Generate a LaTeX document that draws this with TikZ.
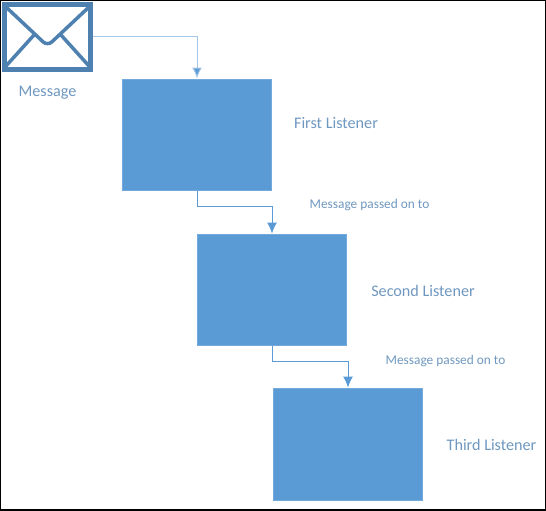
\documentclass[tikz,border=0pt]{standalone}
\usepackage{fontspec}
\setmainfont{Carlito}
\usetikzlibrary{calc, positioning, arrows.meta}
\definecolor{boxblue}{HTML}{5B9BD5}
\definecolor{mailblue}{HTML}{4F81B0}
\definecolor{textblue}{HTML}{6F97BF}
\definecolor{paleblue}{HTML}{A5C6E6}
\tikzset{
  listener/.style={fill=boxblue, draw=boxblue!85!white, line width=.02cm, minimum width=3cm, minimum height=2.24cm, inner sep=0pt},
  mailbox/.style={draw=mailblue, fill=white, line width=.11cm, minimum width=1.72cm, minimum height=1.3cm, inner sep=0pt},
  flow/.style={draw=boxblue, line width=.02cm, -{Latex[length=.22cm,width=.2cm,fill=boxblue]}},
  tag/.style={text=textblue, font=\fontsize{9.2}{11}\selectfont, inner sep=0pt},
  smalltag/.style={text=textblue, font=\fontsize{7.6}{9}\selectfont, inner sep=0pt}
}
\begin{document}
\begin{tikzpicture}[x=.02cm, y=-.02cm]
  \useasboundingbox (0,0) rectangle (546,510);
  \draw [line width=.04cm] (0,0) rectangle (546,510);

  \node (mail) at (47.5,37) [mailbox] {};
  \draw [mailblue, line width=.07cm, rounded corners=.12cm] (6,7) -- (47.5,46) -- (89,7);
  \draw [mailblue, line width=.07cm] (6,66) -- (34,35);
  \draw [mailblue, line width=.07cm] (89,66) -- (61,35);
  \node (message) at (47.5,92.5) [tag] {Message};

  \node (first) at (197,135) [listener] {};
  \node (second) at (272,290) [listener] {};
  \node (third) at (348,444) [listener] {};

  \node (firstname) at (336,123) [tag] {First Listener};
  \node (secondname) at (423,291) [tag] {Second Listener};
  \node (thirdname) at (491.5,445) [tag] {Third Listener};

  \node (passone) at (369.5,205) [smalltag] {Message passed on to};
  \node (passtwo) at (445.5,361) [smalltag] {Message passed on to};

  \draw [flow, draw=paleblue] (mail.east) -| (first.north);
  \draw [flow] (first.south) |- ($(first.south)+(0,15)$) -| (second.north);
  \draw [flow] (second.south) |- ($(second.south)+(0,15)$) -| (third.north);
\end{tikzpicture}
\end{document}
